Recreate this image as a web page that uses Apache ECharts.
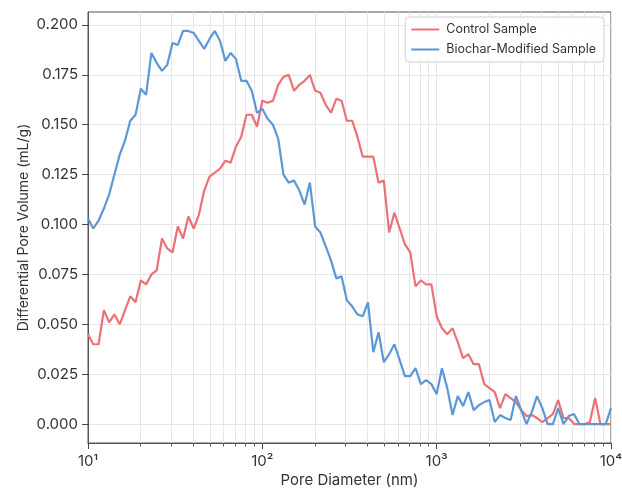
<!DOCTYPE html>
<html>
<head>
<meta charset="utf-8">
<script src="https://cdn.jsdelivr.net/npm/echarts@6/dist/echarts.min.js"></script>
<style>
  html, body { margin: 0; padding: 0; background: #fff; }
  #chart { width: 622px; height: 488px; }
</style>
</head>
<body>
<div id="chart"></div>
<script>
// pore diameters (nm), log spaced 10 .. 10^4
const poreDiameter = [
  10.00, 10.72, 11.50, 12.33, 13.22, 14.17, 15.20, 16.30, 17.48, 18.74,
  20.09, 21.54, 23.10, 24.77, 26.56, 28.48, 30.54, 32.75, 35.11, 37.65,
  40.37, 43.29, 46.42, 49.77, 53.37, 57.22, 61.36, 65.79, 70.55, 75.65,
  81.11, 86.97, 93.26, 100.0, 107.2, 115.0, 123.3, 132.2, 141.7, 152.0,
  163.0, 174.8, 187.4, 200.9, 215.4, 231.0, 247.7, 265.6, 284.8, 305.4,
  327.5, 351.1, 376.5, 403.7, 432.9, 464.2, 497.7, 533.7, 572.2, 613.6,
  657.9, 705.5, 756.5, 811.1, 869.7, 932.6, 1000, 1072, 1150, 1233,
  1322, 1417, 1520, 1630, 1748, 1874, 2009, 2154, 2310, 2477,
  2656, 2848, 3054, 3275, 3511, 3765, 4037, 4329, 4642, 4977,
  5337, 5722, 6136, 6579, 7055, 7565, 8111, 8697, 9326, 10000
];

const controlSample = [
  0.045, 0.040, 0.040, 0.057, 0.051, 0.055, 0.050, 0.057, 0.064, 0.061,
  0.072, 0.070, 0.075, 0.077, 0.093, 0.088, 0.086, 0.099, 0.093, 0.104,
  0.098, 0.105, 0.117, 0.124, 0.126, 0.128, 0.132, 0.131, 0.139, 0.144,
  0.155, 0.155, 0.149, 0.162, 0.161, 0.162, 0.170, 0.174, 0.175, 0.167,
  0.170, 0.172, 0.175, 0.167, 0.166, 0.160, 0.156, 0.163, 0.162, 0.152,
  0.152, 0.144, 0.134, 0.134, 0.134, 0.121, 0.122, 0.096, 0.106, 0.098,
  0.090, 0.086, 0.069, 0.072, 0.070, 0.070, 0.054, 0.048, 0.045, 0.048,
  0.041, 0.033, 0.035, 0.030, 0.030, 0.020, 0.018, 0.016, 0.008, 0.015,
  0.013, 0.011, 0.007, 0.004, 0.0045, 0.003, 0.001, 0.003, 0.005, 0.012,
  0.003, 0.003, 0.000, 0.000, 0.000, 0.001, 0.013, 0.000, 0.000, 0.000
];

const biocharSample = [
  0.103, 0.098, 0.102, 0.108, 0.115, 0.125, 0.135, 0.142, 0.152, 0.155,
  0.168, 0.165, 0.186, 0.181, 0.177, 0.180, 0.191, 0.190, 0.197, 0.197,
  0.196, 0.192, 0.188, 0.193, 0.197, 0.192, 0.182, 0.186, 0.183, 0.172,
  0.172, 0.167, 0.156, 0.158, 0.153, 0.150, 0.143, 0.125, 0.121, 0.122,
  0.117, 0.110, 0.121, 0.099, 0.096, 0.089, 0.082, 0.073, 0.074, 0.062,
  0.059, 0.055, 0.054, 0.061, 0.036, 0.046, 0.031, 0.035, 0.040, 0.032,
  0.024, 0.024, 0.028, 0.020, 0.022, 0.020, 0.015, 0.028, 0.018, 0.0045,
  0.014, 0.009, 0.016, 0.007, 0.0095, 0.011, 0.012, 0.001, 0.0045, 0.003,
  0.002, 0.014, 0.007, 0.000, 0.006, 0.014, 0.008, 0.000, 0.000, 0.008,
  0.000, 0.004, 0.005, 0.000, 0.000, 0.000, 0.000, 0.000, 0.000, 0.008
];

const yTicks = [0, 0.025, 0.05, 0.075, 0.1, 0.125, 0.15, 0.175, 0.2];
const xMinorTicks = [
  20, 30, 40, 50, 60, 70, 80, 90,
  200, 300, 400, 500, 600, 700, 800, 900,
  2000, 3000, 4000, 5000, 6000, 7000, 8000, 9000
];
const supers = { 1: '10¹', 2: '10²', 3: '10³', 4: '10⁴' };

const font = 'Inter, "Noto Sans", sans-serif';
const inkColor = '#333';
const gridColor = '#e6e6e6';
const plotHeight = 488 - 12 - 45;

const chart = echarts.init(document.getElementById('chart'), null, { renderer: 'canvas' });

chart.setOption({
  animation: false,
  textStyle: { fontFamily: font },
  grid: {
    left: 88, right: 11, top: 12, bottom: 45,
    outerBoundsMode: 'none',
    show: true, borderColor: '#555', borderWidth: 1, backgroundColor: 'transparent'
  },
  legend: {
    orient: 'vertical',
    right: 18, top: 17,
    padding: [6, 8, 6, 6],
    itemWidth: 28, itemHeight: 2, itemGap: 7,
    icon: 'rect',
    backgroundColor: 'rgba(255,255,255,0.85)',
    borderColor: '#d0d0d0', borderWidth: 1, borderRadius: 4,
    textStyle: { fontFamily: font, fontSize: 12.5, color: inkColor, padding: [0, 0, 0, 2] },
    data: ['Control Sample', 'Biochar-Modified Sample']
  },
  xAxis: [
    {
      type: 'log', logBase: 10, min: 10, max: 10000, position: 'bottom',
      name: 'Pore Diameter (nm)', nameLocation: 'middle', nameGap: 30,
      nameMoveOverlap: false,
      nameTextStyle: { fontFamily: font, fontSize: 15, color: inkColor },
      axisLine: { show: true, onZero: false, lineStyle: { color: '#555', width: 1 } },
      axisTick: { show: true, length: 6, lineStyle: { color: '#444' } },
      axisLabel: {
        color: inkColor, fontSize: 15, margin: 11,
        formatter: v => supers[Math.round(Math.log10(v))] || ''
      },
      splitLine: { show: true, lineStyle: { color: gridColor, width: 1 } }
    },
    {
      // minor ticks: sits at the top slot, shifted down onto the bottom edge
      type: 'value', min: 1, max: 4, position: 'top', offset: -plotHeight,
      axisLine: { show: false, onZero: false },
      axisTick: { show: true, inside: true, length: 3.5, lineStyle: { color: '#555' },
        customValues: xMinorTicks.map(v => Math.log10(v)) },
      axisLabel: { show: false, customValues: xMinorTicks.map(v => Math.log10(v)) },
      splitLine: { show: true, lineStyle: { color: gridColor, width: 1 } }
    }
  ],
  yAxis: {
    type: 'value', min: -0.0095, max: 0.2065,
    name: 'Differential Pore Volume (mL/g)', nameLocation: 'middle', nameGap: 57,
    nameMoveOverlap: false,
    nameTextStyle: { fontFamily: font, fontSize: 14, color: inkColor },
    axisLine: { show: true, onZero: false, lineStyle: { color: '#555', width: 1 } },
    axisTick: { show: true, length: 6, lineStyle: { color: '#444' }, customValues: yTicks },
    axisLabel: { color: inkColor, fontSize: 15, margin: 10, customValues: yTicks,
      formatter: v => v.toFixed(3) },
    splitLine: { show: true, lineStyle: { color: gridColor, width: 1 } }
  },
  series: [
    {
      name: 'Control Sample', type: 'line', xAxisIndex: 0,
      data: poreDiameter.map((d, i) => [d, controlSample[i]]),
      showSymbol: false, symbol: 'none',
      lineStyle: { color: '#eb7177', width: 2.2 },
      itemStyle: { color: '#eb7177' }
    },
    {
      name: 'Biochar-Modified Sample', type: 'line', xAxisIndex: 0,
      data: poreDiameter.map((d, i) => [d, biocharSample[i]]),
      showSymbol: false, symbol: 'none',
      lineStyle: { color: '#5c97d8', width: 2.2 },
      itemStyle: { color: '#5c97d8' }
    }
  ]
});
</script>
</body>
</html>
